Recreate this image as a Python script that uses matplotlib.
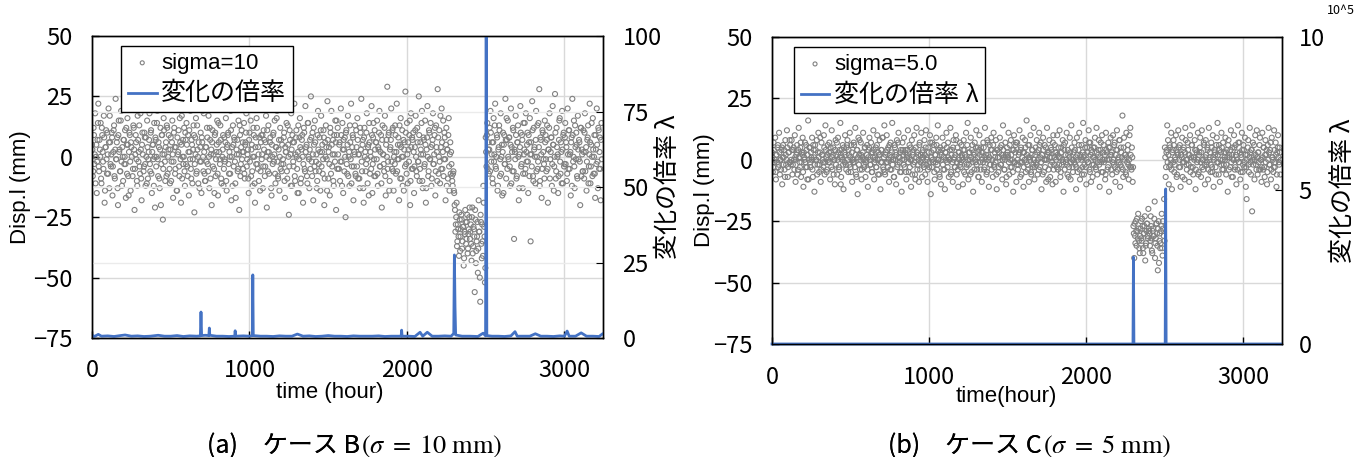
import numpy as np
import matplotlib.pyplot as plt

plt.rcParams['font.family'] = ['Liberation Sans Narrow', 'Noto Sans CJK JP', 'DejaVu Sans']
plt.rcParams['mathtext.fontset'] = 'stix'

STEP = 5  # hours between samples of one list; the *_mid lists sit half a step later

# displacement, case B (sigma = 10 mm), one row = 120 hours
disp_a = [
    5, -8, 12, -3, 18, 0, -15, 7, 22, -6, 3, 14, -11, 9, -2, 17, -19, 4, 11, -7, 1, 20, -13, 6,
    -4, 10, -16, 2, 13, -9, 24, -1, 8, -20, 15, 3, -6, 19, -12, 0, 7, -3, 11, -17, 5, 16, -8, 2,
    9, -14, 4, 21, -5, 12, -22, 1, 6, -10, 17, -2, 13, -7, 3, -18, 10, 25, -4, 8, -12, 0, 15, -9,
    2, 18, -6, 11, -15, 5, -1, 14, -21, 7, 0, 19, -8, 4, -13, 12, -3, 9, -26, 16, 1, -10, 6, 13,
    -7, 3, 20, -11, 8, -2, 15, -17, 10, 4, -5, 22, -14, 1, 11, -8, 6, -19, 17, 0, -3, 12, -12, 7,
    14, -4, 9, -16, 2, 19, -9, 5, -1, 13, -23, 8, 16, -6, 3, -11, 21, -2, 10, -15, 6, 0, 18, -7,
    -10, 4, 12, -3, 17, -13, 7, 1, -20, 11, 23, -5, 9, -8, 2, 15, -16, 6, -1, 13, -9, 20, 3, -12,
    8, -2, 16, -14, 5, 10, -7, 0, 19, -18, 4, 13, -4, 7, -11, 22, 1, -6, 15, -22, 9, -3, 11, 2,
    -5, 14, -9, 6, 18, -1, 3, -15, 10, 27, -8, 5, -12, 12, 0, -19, 8, 16, -3, 4, -10, 21, -6, 9,
    1, -13, 11, 7, -4, 17, -21, 2, 13, -7, 6, 24, -16, 0, 9, -2, 15, -11, 4, 19, -8, 3, -14, 12,
    7, -6, 20, -3, 10, -17, 2, 14, -9, 5, -24, 11, 1, 18, -12, 6, -4, 22, -10, 8, 0, -15, 13, -1,
    16, -11, 3, 9, -19, 12, -5, 21, 4, -8, 14, 0, -13, 7, 25, -2, 10, -18, 5, 15, -6, 1, -10, 19,
    -3, 8, -14, 17, 2, -7, 11, -20, 6, 13, -1, 23, -9, 4, -16, 10, 19, -4, 7, -12, 1, 15, -22, 9,
    12, -5, 5, -10, 20, -2, 14, -15, 3, 8, -25, 11, -7, 17, 0, -12, 6, 22, -4, 9, -18, 2, 13, -8,
    4, 16, -9, 1, -13, 10, 24, -6, 7, -19, 12, 2, -3, 18, -11, 5, 14, -7, 0, 21, -15, 8, -1, 11,
    -8, 6, 15, -12, 3, 19, -4, 9, -21, 13, 1, -6, 17, -16, 7, 29, -2, 10, -10, 4, 20, -5, 12, -14,
    2, 13, -7, 22, -1, 8, -18, 5, 16, -9, 11, 0, -14, 6, 27, -3, 14, -11, 3, 9, -20, 18, -5, 7,
    10, -15, 4, 17, -6, 12, -2, 25, -10, 6, 1, 19, -13, 8, -4, 15, -19, 3, 21, -8, 11, -1, 14, -12,
    5, 18, -3, 9, -16, 13, 2, 28, -7, 11, -11, 4, 20, -5, 15, -1, 8, -18, 12, 3, -9, 16, -14, 6,
    2, -8, -12, -6, -15, -22, -28, -19, -35, -30, -41, -26, -33, -24, -38, -29, -45, -31, -22, -36, -27, -40, -32, -25,
    -34, -28, -43, -21, -37, -30, -56, -26, -39, -33, -48, -18, -31, -60, -27, -42, -35, -12, -29, -52, 8, -4, 14, 3,
    -7, 12, 19, -2, 6, -11, 16, 1, 22, -5, 9, -14, 3, 13, -8, 18, 0, -16, 10, 5, -3, 24, -9, 7,
    15, -1, 8, -12, 20, 4, -6, 11, -34, 2, 17, -9, 6, 13, -18, 1, 21, -4, 9, -13, 14, 3, -7, 18,
    -2, 10, -15, 6, 16, -35, 1, 23, -8, 12, 4, -11, 19, 0, -5, 14, 28, -10, 7, -17, 11, 2, -3, 15,
    9, -6, 13, -19, 3, 18, -1, 8, -12, 21, 5, -4, 26, -9, 12, 0, -15, 7, 16, -7, 2, 19, -11, 10,
    -3, 14, 6, -10, 20, -5, 11, 1, -16, 8, 24, -2, 15, -13, 4, 10, -8, 17, -1, 6, -20, 12, 3, -6,
    11, -9, 18, 2, -14, 7, 13, -4, 22, -11, 5, 0, 16, -7, 9, -17, 3, 20, -2, 12, -5, 8, -18, 14,
]
disp_a_mid = [
    3, -6, 9, 1, -11, 5, -2, 14, -4, 7, 0, -9, 12, 2, -5, 8, -14, 4, -1, 10, -7, 6, 17, -3,
    1, 8, -4, 11, -8, 3, -1, 6, -13, 9, 2, -6, 15, -2, 4, -10, 7, 0, -3, 12, -7, 5, -16, 10,
    -2, 6, 0, -8, 13, 3, -5, 9, -1, -12, 7, 2, -4, 18, -9, 5, 1, -6, 10, -3, 8, -11, 4, -1,
    7, -3, 10, -7, 2, 5, -12, 0, 8, -4, 14, -1, 6, -9, 3, -20, 9, 1, -5, 11, -2, 4, -8, 12,
    0, 9, -5, 3, -10, 6, 1, -2, 12, -7, 4, -14, 8, 2, -4, 16, -1, 5, -9, 7, 0, -6, 10, -3,
    5, -8, 2, 11, -1, -5, 7, -11, 3, 9, -3, 1, -7, 13, 0, 6, -13, 4, -2, 8, 19, -6, 2, -10,
    4, -2, 8, -6, 0, 12, -9, 3, 6, -4, 1, -15, 10, -1, 5, -7, 14, 2, -3, 7, -11, 0, 9, -5,
    -1, 6, -10, 4, 9, -3, 2, -7, 11, 0, -12, 5, 8, -2, -17, 3, 7, -5, 1, 13, -8, 4, -1, 6,
    2, -7, 5, 10, -4, 1, -9, 7, -2, 15, 3, -6, 0, 9, -11, 4, -3, 12, -5, 1, 8, -14, 6, -1,
    9, -4, 3, -8, 6, 0, 11, -6, 2, -1, 8, -13, 5, -3, 10, 1, -7, 4, 16, -2, -9, 7, 0, -5,
    -3, 5, -1, 8, -10, 4, 2, -6, 13, 0, -4, 7, -12, 3, 9, -2, 6, -8, 1, 11, -5, 2, -15, 8,
    4, -9, 7, 0, -3, 10, -6, 2, 5, -11, 14, -1, 3, -5, 8, -8, 1, 12, -4, 6, -2, -13, 9, 3,
    -6, 2, 11, -4, 5, -1, 8, -9, 0, 4, -14, 7, 2, -3, 12, -7, 5, 1, -10, 9, -2, 6, 15, -5,
    1, -5, 6, -2, 9, -12, 3, 7, -6, 0, 10, -3, 5, -8, 2, 13, -1, -11, 4, 8, -4, 1, -7, 11,
    -4, 7, 1, -9, 12, 3, -2, 5, -13, 8, 0, -6, 10, -1, 4, -16, 6, 2, -5, 9, -3, 14, -8, 3,
    6, -1, -7, 4, 10, -4, 2, -11, 7, 1, -3, 12, -8, 5, 0, -5, 9, -14, 3, 7, -2, 11, -6, 0,
    -3, 9, 2, -6, 5, -1, 13, -9, 4, 0, -12, 7, 3, -4, 10, -7, 1, 6, -2, 15, -10, 4, 8, -5,
    2, -4, 11, 0, -8, 6, -2, 9, -5, 3, 14, -10, 1, 7, -3, 5, -13, 8, 0, -6, 10, -1, 4, -9,
    7, -3, 1, 12, -6, 4, -10, 8, 0, -2, 17, -5, 6, 2, -8, 10, -1, 5, -12, 3, 9, -4, 1, -7,
    -3, -10, -7, -14, -20, -31, -25, -37, -28, -33, -23, -39, -30, -26, -35, -29, -42, -32, -27, -34, -24, -38, -30, -21,
    -31, -36, -25, -40, -29, -33, -22, -44, -35, -27, -38, -31, -50, -24, -36, -28, -41, -19, -33, -46, 2, 9, -5, 6,
    3, -6, 10, 1, -9, 6, -2, 13, -4, 0, 8, -12, 4, 11, -1, -7, 5, 2, -15, 9, -3, 7, 16, -5,
    0, 8, -4, 5, -11, 2, 12, -6, 3, -1, 9, -8, 6, 0, -13, 4, 10, -3, 7, -7, 1, 14, -5, 2,
    5, -2, 9, -8, 1, 6, -4, 11, -10, 3, 0, 7, -6, 13, -2, 4, -12, 8, 1, -5, 10, -1, -9, 6,
    -1, 7, -5, 3, 12, -9, 2, 8, -3, 5, -14, 0, 10, -6, 4, 1, -8, 15, -2, 6, -11, 3, 9, -4,
    8, -3, 4, -7, 1, 11, -5, 2, 6, -12, 9, 0, -4, 13, -1, 5, -9, 3, 7, -2, 12, -8, 1, -6,
    2, 10, -6, 4, -2, 8, -11, 1, 6, -4, 14, -8, 3, 0, -7, 9, -3, 5, -13, 11, 2, -5, 7, -1,
]

# displacement, case C (sigma = 5 mm)
disp_b = [
    3, -5, 7, -1, 9, -8, 2, 5, -3, 11, -6, 0, 4, -10, 6, 1, -4, 8, -2, 12, -7, 3, -1, 6,
    -2, 8, -6, 4, 0, 10, -9, 2, 6, -4, 13, -1, 5, -7, 3, 9, -11, 1, 7, -3, 4, -8, 16, 0,
    5, -3, 1, 9, -7, 4, -13, 6, 0, 8, -2, 11, -5, 3, -9, 7, 2, -1, 10, -6, 14, 1, -4, 6,
    -1, 7, -8, 3, 12, -4, 5, 0, -10, 8, 2, -6, 9, -3, 4, 15, -7, 1, 6, -12, 3, 10, -2, 5,
    8, -5, 2, 11, -3, 6, -9, 0, 7, -1, 13, -6, 4, -14, 9, 2, -4, 7, -8, 1, 11, -2, 5, -7,
    0, 6, -11, 4, 9, -2, 7, -5, 3, 12, -8, 1, 5, -3, 10, -6, 2, 8, -12, 4, -1, 9, -4, 14,
    -6, 3, 10, -1, 5, -9, 2, 7, -4, 15, 0, -7, 6, 3, -10, 8, -2, 11, 1, -5, 4, -13, 7, 2,
    9, -3, 4, -8, 1, 12, -5, 6, 0, -11, 8, 3, -2, 10, -6, 5, 13, -4, 2, -9, 7, -1, 11, -7,
    4, -2, 8, -6, 12, 1, -9, 5, -3, 10, -14, 3, 7, -1, 6, -8, 2, 9, -4, 14, 0, -6, 5, -10,
    2, 9, -4, 6, -12, 3, 11, -1, 7, -7, 0, 13, -5, 4, -9, 8, 1, -3, 10, -6, 5, -11, 3, 7,
    -3, 6, 1, -10, 8, 4, -6, 11, -2, 15, -8, 3, 0, 9, -5, 6, -13, 2, 7, -1, 12, -4, 5, -7,
    10, -1, 5, -9, 3, 7, -4, 13, 0, -6, 8, 2, -11, 6, -2, 9, 4, -7, 11, -3, 1, 8, -12, 4,
    -5, 3, 9, -2, 6, -8, 14, 1, -4, 7, -10, 5, 2, 11, -6, 0, 8, -3, 4, -13, 10, -1, 6, -9,
    7, -4, 2, 12, -7, 5, -1, 9, -11, 3, 8, -5, 16, -2, 6, -9, 1, 10, -6, 4, -3, 13, -8, 2,
    -1, 8, -6, 4, 11, -3, 7, -12, 2, 9, -5, 6, 0, -9, 13, 3, -4, 8, -7, 5, 1, -10, 10, -2,
    6, -9, 3, 10, -4, 1, 12, -7, 5, -2, 8, -13, 4, 7, -1, 11, -6, 2, -3, 9, -8, 14, 0, -5,
    3, 7, -2, -12, 9, -5, 4, 11, -8, 1, 6, -3, 15, -6, 2, 8, -10, 5, -1, 12, -4, 7, -9, 3,
    -7, 5, 1, 9, -3, 13, -6, 2, 8, -11, 4, -1, 10, -5, 6, 0, -8, 11, 3, -4, 7, -13, 5, 9,
    2, -6, 10, -2, 7, -9, 4, 12, -4, 1, 8, -11, 5, -3, 18, -7, 9, 2, -5, 11, -1, 6, -8, 10,
    13, -3, 5, -9, -27, -40, -31, -25, -35, -29, -22, -33, -38, -28, -32, -24, -36, -30, -27, -41, -34, -26, -31, -20,
    -29, -35, -23, -32, -38, -28, -31, -17, -34, -26, -30, -45, -25, -33, -36, -29, -22, -39, -28, -16, 5, -7, 3, 14,
    8, -10, 6, -2, 11, -12, 4, 8, -5, 1, 10, -7, 3, 12, -3, 6, -11, 2, 9, -1, 5, -8, 13, 0,
    -4, 7, 2, -9, 10, -3, 6, 14, -6, 1, 8, -12, 4, -1, 11, -5, 3, 9, -7, 12, 0, -4, 6, -10,
    8, -2, 5, -8, 13, 1, -5, 7, -3, 10, -11, 4, 2, -6, 9, 15, -1, 6, -9, 3, 11, -4, 7, -2,
    1, 9, -6, 4, -13, 8, 2, -3, 12, -7, 5, 0, 10, -4, 6, -10, 3, 14, -1, 7, -8, 2, 11, -5,
    6, -3, 9, -11, -16, 2, 8, -5, 13, -1, 4, -21, 7, 1, -8, 10, -2, 12, -6, 3, -4, 9, 0, -9,
    11, -4, 5, -7, 8, 2, -10, 6, 13, -2, 4, -8, 9, 1, -5, 12, -3, 7, -11, 3, 10, -1, 5, -6,
]
disp_b_mid = [
    1, -3, 4, 0, -5, 2, -1, 6, -2, 3, 0, -4, 5, 1, -2, 4, -7, 2, 0, 5, -3, 3, 8, -1,
    0, 4, -2, 5, -4, 1, 0, 3, -6, 4, 1, -3, 7, -1, 2, -5, 3, 0, -1, 6, -3, 2, -8, 5,
    -1, 3, 0, -4, 6, 1, -2, 4, 0, -6, 3, 1, -2, 9, -4, 2, 0, -3, 5, -1, 4, -5, 2, 0,
    3, -1, 5, -3, 1, 2, -6, 0, 4, -2, 7, 0, 3, -4, 1, -10, 4, 0, -2, 5, -1, 2, -4, 6,
    0, 4, -2, 1, -5, 3, 0, -1, 6, -3, 2, -7, 4, 1, -2, 8, 0, 2, -4, 3, 0, -3, 5, -1,
    2, -4, 1, 5, 0, -2, 3, -5, 1, 4, -1, 0, -3, 6, 0, 3, -6, 2, -1, 4, 9, -3, 1, -5,
    2, -1, 4, -3, 0, 6, -4, 1, 3, -2, 0, -7, 5, 0, 2, -3, 7, 1, -1, 3, -5, 0, 4, -2,
    0, 3, -5, 2, 4, -1, 1, -3, 5, 0, -6, 2, 4, -1, -8, 1, 3, -2, 0, 6, -4, 2, 0, 3,
    1, -3, 2, 5, -2, 0, -4, 3, -1, 7, 1, -3, 0, 4, -5, 2, -1, 6, -2, 0, 4, -7, 3, 0,
    4, -2, 1, -4, 3, 0, 5, -3, 1, 0, 4, -6, 2, -1, 5, 0, -3, 2, 8, -1, -4, 3, 0, -2,
    -1, 2, 0, 4, -5, 2, 1, -3, 6, 0, -2, 3, -6, 1, 4, -1, 3, -4, 0, 5, -2, 1, -7, 4,
    2, -4, 3, 0, -1, 5, -3, 1, 2, -5, 7, 0, 1, -2, 4, -4, 0, 6, -2, 3, -1, -6, 4, 1,
    -3, 1, 5, -2, 2, 0, 4, -4, 0, 2, -7, 3, 1, -1, 6, -3, 2, 0, -5, 4, -1, 3, 7, -2,
    0, -2, 3, -1, 4, -6, 1, 3, -3, 0, 5, -1, 2, -4, 1, 6, 0, -5, 2, 4, -2, 0, -3, 5,
    -2, 3, 0, -4, 6, 1, -1, 2, -6, 4, 0, -3, 5, 0, 2, -8, 3, 1, -2, 4, -1, 7, -4, 1,
    3, 0, -3, 2, 5, -2, 1, -5, 3, 0, -1, 6, -4, 2, 0, -2, 4, -7, 1, 3, -1, 5, -3, 0,
    -1, 4, 1, -3, 2, 0, 6, -4, 2, 0, -6, 3, 1, -2, 5, -3, 0, 3, -1, 7, -5, 2, 4, -2,
    1, -2, 5, 0, -4, 3, -1, 4, -2, 1, 7, -5, 0, 3, -1, 2, -6, 4, 0, -3, 5, 0, 2, -4,
    3, -1, 0, 6, -3, 2, -5, 4, 0, -1, 8, -2, 3, 1, -4, 5, 0, 2, -6, 1, 4, -2, 0, -3,
    2, -4, 1, -3, -30, -26, -34, -29, -24, -32, -28, -36, -31, -25, -33, -27, -38, -30, -23, -35, -29, -26, -32, -28,
    -30, -33, -27, -37, -29, -31, -24, -40, -32, -26, -35, -28, -42, -30, -34, -27, -36, -25, -31, -33, 1, -3, 4, -1,
    2, -3, 5, 0, -4, 3, -1, 6, -2, 0, 4, -6, 2, 5, 0, -3, 2, 1, -7, 4, -1, 3, 8, -2,
    0, 4, -2, 2, -5, 1, 6, -3, 1, 0, 4, -4, 3, 0, -6, 2, 5, -1, 3, -3, 0, 7, -2, 1,
    2, -1, 4, -4, 0, 3, -2, 5, -5, 1, 0, 3, -3, 6, -1, 2, -6, 4, 0, -2, 5, 0, -4, 3,
    0, 3, -2, 1, 6, -4, 1, 4, -1, 2, -7, 0, 5, -3, 2, 0, -4, 7, -1, 3, -5, 1, 4, -2,
    4, -1, 2, -3, 0, 5, -2, 1, 3, -6, 4, 0, -2, 6, 0, 2, -4, 1, 3, -1, 6, -4, 0, -3,
    1, 5, -3, 2, -1, 4, -5, 0, 3, -2, 7, -4, 1, 0, -3, 4, -1, 2, -6, 5, 1, -2, 3, 0,
]

# change ratio lambda, case B
lam_a_hours = [0, 15, 40, 60, 100, 140, 180, 210, 250, 290, 330, 370, 420, 460, 500, 540,
               580, 620, 665, 688, 692, 696, 720, 742, 745, 748, 790, 830, 870, 906, 909, 912,
               960, 1000, 1018, 1021, 1024, 1070, 1110, 1150, 1190, 1230, 1270, 1304, 1340, 1380,
               1420, 1460, 1500, 1540, 1580, 1620, 1660, 1700, 1740, 1780, 1820, 1860, 1900, 1940,
               1963, 1966, 1969, 2010, 2050, 2083, 2100, 2129, 2160, 2200, 2240, 2280, 2297, 2301,
               2305, 2309, 2350, 2400, 2450, 2484, 2499, 2503, 2507, 2540, 2580, 2620, 2660, 2686,
               2700, 2740, 2780, 2815, 2850, 2890, 2930, 2970, 3000, 3017, 3030, 3070, 3106, 3140,
               3180, 3220, 3240]
lam_a_vals = [1.0, 0.5, 1.2, 0.6, 0.7, 0.5, 0.8, 1.0, 0.6, 0.7, 0.5, 0.6, 0.9, 0.6, 0.6, 0.8,
              0.5, 0.7, 0.6, 0.7, 8.6, 0.8, 0.9, 0.8, 3.3, 0.9, 0.6, 0.6, 0.5, 0.6, 2.4, 0.6,
              0.7, 0.6, 0.8, 20.9, 0.8, 0.6, 0.6, 0.5, 0.7, 0.6, 0.6, 1.3, 0.6, 0.7,
              0.5, 0.6, 0.8, 0.6, 0.6, 0.5, 0.7, 0.6, 0.6, 0.6, 0.7, 0.5, 0.6, 0.6,
              0.6, 2.6, 0.6, 0.6, 0.5, 1.9, 0.6, 1.9, 0.6, 0.6, 0.7, 0.6, 1.5, 27.5,
              10.4, 1.0, 0.6, 0.6, 0.5, 1.6, 0.7, 120.0, 0.8, 0.6, 0.6, 0.5, 0.7, 2.1,
              0.6, 0.6, 0.6, 1.4, 0.6, 0.6, 0.5, 0.7, 0.6, 2.3, 0.6, 0.6, 1.7, 0.6,
              0.6, 0.5, 1.3]

# change ratio lambda, case C (units of 10^5)
lam_b_hours = [0, 2297, 2300, 2303, 2502, 2505, 2508, 3240]
lam_b_vals = [0, 0, 2.83, 0, 0, 5.05, 0, 0]

GRAY = '#808080'
BLUE = '#4472C4'
GRID = '#d9d9d9'


def draw_panel(fig, rect, disp, disp_mid, lam_h, lam_v, leg_labels, rmax, rticks, rpad,
               xlabel, xlab_pos, xpad, right_grid, leg_x, ylab_x, rlab_x):
    ax1 = fig.add_axes(rect)
    hours = np.arange(len(disp)) * STEP
    hours_mid = np.arange(len(disp_mid)) * STEP + STEP / 2
    sc = ax1.scatter(np.r_[hours, hours_mid], np.r_[disp, disp_mid], s=13, facecolors='none',
                     edgecolors=GRAY, linewidths=0.8, zorder=2)
    ax1.set_xlim(0, 3245)
    ax1.set_ylim(-75, 50)
    ax1.set_xticks([0, 1000, 2000, 3000])
    ax1.set_yticks([-75, -50, -25, 0, 25, 50])
    ax1.grid(True, color=GRID, lw=1)
    ax1.set_axisbelow(True)
    ax1.tick_params(direction='in', length=5, labelsize=17, width=1)
    ax1.tick_params(axis='y', pad=14)
    ax1.tick_params(axis='x', pad=xpad)
    ax1.set_ylabel('Disp.l (mm)', family=['Liberation Sans'], fontsize=16)
    ax1.yaxis.set_label_coords(ylab_x, 0.5)
    ax1.set_xlabel(xlabel, family=['Liberation Sans'], fontsize=16)
    ax1.xaxis.set_label_coords(*xlab_pos)

    ax2 = ax1.twinx()
    ln, = ax2.plot(lam_h, lam_v, color=BLUE, lw=2, clip_on=rmax > 10)
    ax2.set_ylim(0, rmax)
    ax2.set_yticks(rticks)
    ax2.tick_params(direction='in', length=5, labelsize=17, pad=rpad)
    if right_grid:
        ax2.grid(True, axis='y', color='#ebebeb', lw=1)
    ax2.set_ylabel('変化の倍率 λ', family=['Noto Sans CJK JP'], fontsize=18)
    ax2.yaxis.set_label_coords(rlab_x, 0.5)

    for ax in (ax1, ax2):
        for sp in ax.spines.values():
            sp.set_color('black')
            sp.set_linewidth(1)

    leg = ax2.legend([sc, ln], leg_labels, loc='upper left', bbox_to_anchor=(leg_x, 0.967),
                     frameon=True, fancybox=False, edgecolor='black', framealpha=1,
                     prop={'family': ['Liberation Sans', 'Noto Sans CJK JP'], 'size': 16},
                     handlelength=1.3, handletextpad=0.2, borderpad=0.3, labelspacing=0.35,
                     borderaxespad=0, scatterpoints=1, markerscale=0.8)
    leg.get_frame().set_linewidth(1)
    leg.get_texts()[1].set_fontsize(18)
    return ax1, ax2


fig = plt.figure(figsize=(13.57, 4.57), dpi=100)

draw_panel(fig, [0.0678, 0.2604, 0.3766, 0.6608], disp_a, disp_a_mid, lam_a_hours, lam_a_vals,
           ['sigma=10', '変化の倍率'], 100, [0, 25, 50, 75, 100], 14,
           'time (hour)', (0.466, -0.146), 15, True, 0.057, -0.119, 1.102)
draw_panel(fig, [0.5689, 0.2473, 0.3758, 0.6718], disp_b, disp_b_mid, lam_b_hours, lam_b_vals,
           ['sigma=5.0', '変化の倍率 λ'], 10, [0, 5, 10], 12,
           'time(hour)', (0.459, -0.137), 16, False, 0.043, -0.112, 1.094)

fig.text(1341 / 1357, 1 - 10 / 457, '10^5', fontsize=9, ha='center', va='center')

# captions
for x0, head, tail in [(207 / 1357, '(a)　ケース B', r'$(\sigma\;=\;10\ \mathrm{mm})$'),
                       (888 / 1357, '(b)　ケース C', r'$(\sigma\;=\;5\ \mathrm{mm})$')]:
    t1 = fig.text(x0, 1 - 446 / 457, head, family=['Noto Sans CJK JP'], fontsize=18,
                  ha='left', va='center')
    fig.add_artist(t1)
    plt.annotate(tail, xy=(1, 0.5), xycoords=t1, xytext=(1, 0), textcoords='offset points',
                 ha='left', va='center', fontsize=19)

fig.savefig('out.png', dpi=100)
plt.close(fig)
